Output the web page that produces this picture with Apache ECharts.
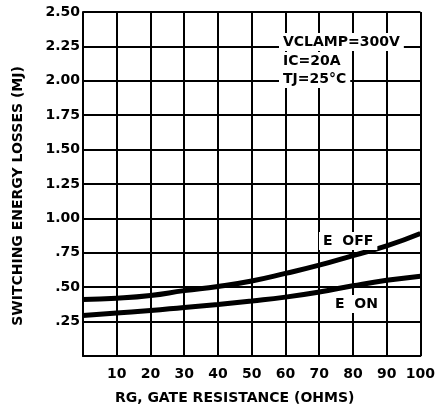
<!DOCTYPE html>
<html>
<head>
<meta charset="utf-8">
<script src="https://cdn.jsdelivr.net/npm/echarts@6/dist/echarts.min.js"></script>
<style>
  html, body { margin: 0; padding: 0; background: #fff; }
  #main { width: 438px; height: 416px; }
</style>
</head>
<body>
<div id="main"></div>
<script>
// gate resistance (ohms)
var rg = [0, 10, 20, 30, 40, 50, 60, 70, 80, 90, 100];
// switching energy losses (mJ)
var eOff = [0.41, 0.42, 0.44, 0.475, 0.505, 0.545, 0.60, 0.66, 0.73, 0.80, 0.89];
var eOn = [0.295, 0.313, 0.33, 0.353, 0.375, 0.40, 0.428, 0.465, 0.51, 0.55, 0.58];

var font = 'DejaVu Sans';

function pairs(ys) {
    return rg.map(function (x, i) { return [x, ys[i]]; });
}

function note(text, left, top) {
    return {
        text: text,
        left: left,
        top: top,
        padding: [2, 4],
        backgroundColor: '#fff',
        textStyle: { fontFamily: font, fontSize: 14, fontWeight: 'bold', color: '#000' }
    };
}

var chartDom = document.getElementById('main');
var myChart = echarts.init(chartDom);
var option;

option = {
    animation: false,
    backgroundColor: '#fff',
    grid: { left: 83, right: 15, top: 12, bottom: 60 },
    xAxis: {
        type: 'value',
        min: 0,
        max: 100,
        interval: 10,
        name: 'RG, GATE RESISTANCE (OHMS)',
        nameLocation: 'middle',
        nameGap: 35,
        nameTextStyle: { fontFamily: font, fontSize: 14, fontWeight: 'bold', color: '#000', padding: [0, 34, 0, 0] },
        axisLine: { show: true, lineStyle: { color: '#000', width: 2 } },
        axisTick: { show: false },
        axisLabel: {
            margin: 11,
            fontFamily: font, fontSize: 14, fontWeight: 'bold', color: '#000',
            formatter: function (v) { return v === 0 ? '' : String(v); }
        },
        splitLine: { show: true, lineStyle: { color: '#000', width: 2 } }
    },
    yAxis: {
        type: 'value',
        min: 0,
        max: 2.5,
        interval: 0.25,
        name: 'SWITCHING ENERGY LOSSES (MJ)',
        nameLocation: 'middle',
        nameRotate: 90,
        nameGap: 58,
        nameTextStyle: { fontFamily: font, fontSize: 14, fontWeight: 'bold', color: '#000', padding: [0, 24, 0, 0] },
        axisLine: { show: true, lineStyle: { color: '#000', width: 2 } },
        axisTick: { show: false },
        axisLabel: {
            margin: 3,
            fontFamily: font, fontSize: 14, fontWeight: 'bold', color: '#000',
            formatter: function (v) {
                if (v === 0) return '';
                var s = v.toFixed(2);
                return v < 1 ? s.slice(1) : s;
            }
        },
        splitLine: { show: true, lineStyle: { color: '#000', width: 2 } }
    },
    title: [
        note('VCLAMP=300V', 279, 33),
        note('IC=20A', 279, 52),
        note('TJ=25°C', 279, 70),
        note('E  OFF', 319, 232),
        note('E  ON', 331, 295)
    ],
    series: [
        {
            name: 'E OFF',
            type: 'line',
            smooth: true,
            showSymbol: false,
            lineStyle: { color: '#000', width: 5 },
            data: pairs(eOff)
        },
        {
            name: 'E ON',
            type: 'line',
            smooth: true,
            showSymbol: false,
            lineStyle: { color: '#000', width: 5 },
            data: pairs(eOn)
        }
    ]
};

option && myChart.setOption(option);
</script>
</body>
</html>
